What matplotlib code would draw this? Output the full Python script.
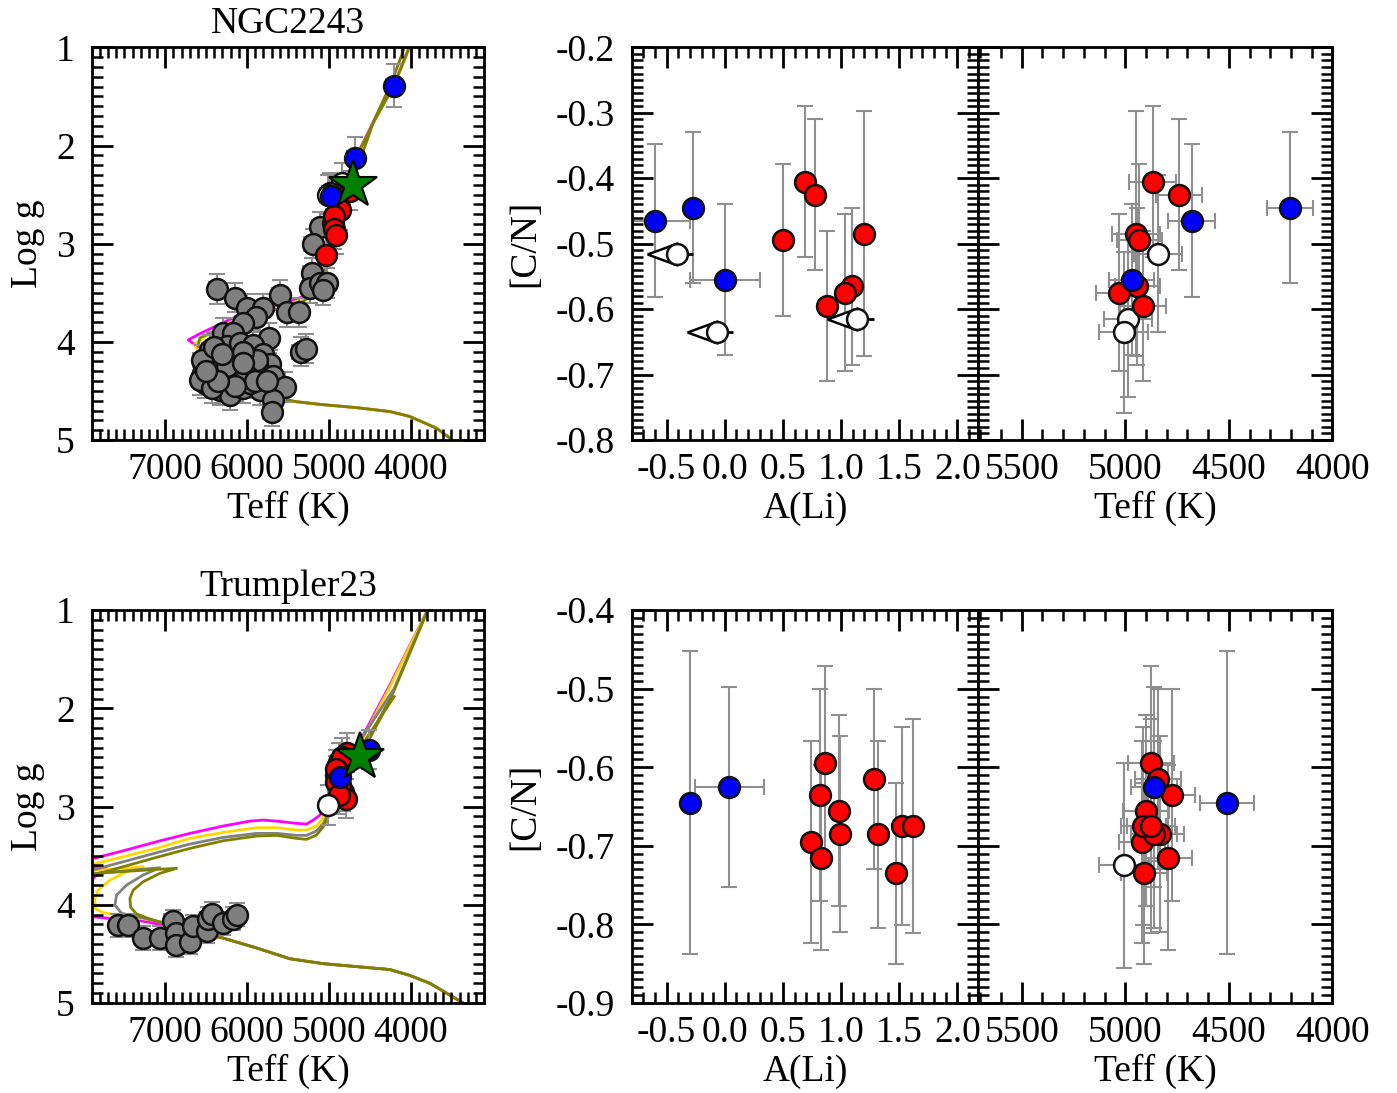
import matplotlib
matplotlib.use('Agg')
import matplotlib.pyplot as plt
from matplotlib.ticker import MultipleLocator, FuncFormatter

plt.rcParams['font.family'] = ['Liberation Serif', 'DejaVu Serif']
plt.rcParams['axes.unicode_minus'] = False

# ---------------- NGC2243 ----------------
ngc_gray_teff = [5109, 5199, 5211, 5231, 5109, 5019, 5068, 5598, 5516, 5362, 6364, 6148, 6005, 5810,
                 5895, 6046, 5728, 5345, 5280, 6291, 6168, 6454, 6250, 6087, 5924, 5802, 6474, 6331,
                 6128, 5965, 5720, 6535, 6372, 6209, 6046, 5863, 5679, 5537, 6515, 6331, 6209, 6046,
                 5843, 5679, 5700, 6576, 6413, 6128, 5965, 6556, 6433, 5883, 6046,
                 6400, 6250, 6000, 5900, 6150, 6350, 6500, 5750, 6050, 6300]
ngc_gray_logg = [2.83, 3.00, 3.30, 3.45, 3.40, 3.40, 3.47, 3.52, 3.70, 3.70, 3.46, 3.55, 3.66, 3.66,
                 3.75, 3.81, 3.96, 4.10, 4.07, 3.91, 3.91, 4.08, 4.04, 4.01, 4.03, 4.12, 4.20, 4.20,
                 4.18, 4.20, 4.23, 4.32, 4.35, 4.32, 4.29, 4.28, 4.35, 4.46, 4.42, 4.49, 4.54, 4.47,
                 4.49, 4.59, 4.71, 4.39, 4.29, 4.39, 4.42, 4.18, 4.47, 4.18, 4.10,
                 4.05, 4.25, 4.35, 4.40, 4.45, 4.40, 4.30, 4.40, 4.22, 4.12]

ngc_red_teff = [4868, 4741, 4948, 4932, 4942, 5029, 4913]
ngc_red_teff_err = [113, 111, 115, 110, 110, 112, 112]
ngc_red_logg = [2.66, 2.46, 2.79, 2.72, 2.85, 3.12, 2.91]
ngc_red_ali = [0.69, 0.78, 1.20, 0.50, 1.09, 1.03, 0.88]
ngc_red_cn = [-0.405, -0.425, -0.485, -0.495, -0.565, -0.575, -0.595]
ngc_red_cn_err = [0.115, 0.115, 0.187, 0.116, 0.12, 0.12, 0.115]

ngc_blue_teff = [4203, 4679, 4969]
ngc_blue_teff_err = [112, 114, 110]
ngc_blue_logg = [1.39, 2.13, 2.51]
ngc_blue_ali = [-0.27, -0.60, 0.00]
ngc_blue_ali_err = [0.0, 0.30, 0.30]
ngc_blue_cn = [-0.445, -0.465, -0.555]
ngc_blue_cn_err = [0.115, 0.117, 0.115]

ngc_white_teff = [4842, 4987, 5008]
ngc_white_teff_err = [115, 115, 120]
ngc_white_logg = [2.38, 2.48, 2.50]
ngc_white_ali = [-0.41, 1.14, -0.07]   # upper limits
ngc_white_cn = [-0.515, -0.615, -0.635]
ngc_white_cn_err = [0.12, 0.12, 0.123]

ngc_star_teff = [4702]
ngc_star_logg = [2.40]

# isochrones NGC2243
ngc_iso_olive_teff = [3520, 3682, 4009, 4253, 4661, 5068, 5394, 5516, 5883, 6209, 6454, 6596, 6576, 6372,
                      6128, 5679, 5313, 5211, 5068, 4987, 4885, 4783, 4681, 4457, 4204, 4029, 3990]
ngc_iso_olive_logg = [4.98, 4.88, 4.76, 4.71, 4.67, 4.64, 4.61, 4.59, 4.42, 4.29, 4.15, 4.03, 3.96, 3.88,
                      3.78, 3.68, 3.59, 3.52, 3.30, 3.03, 2.69, 2.39, 2.15, 1.77, 1.39, 1.03, 0.95]
ngc_iso_magenta_teff = [3520, 3682, 4009, 4253, 4661, 5068, 5394, 5516, 5883, 6209, 6454, 6650, 6719, 6560,
                        6128, 5639, 5350, 5231, 5068, 4987, 4885, 4783, 4681, 4457, 4204, 4029, 3990]
ngc_iso_magenta_logg = [4.98, 4.88, 4.76, 4.71, 4.67, 4.64, 4.61, 4.59, 4.42, 4.29, 4.12, 4.02, 3.98, 3.91,
                        3.74, 3.64, 3.55, 3.49, 3.28, 3.02, 2.68, 2.38, 2.14, 1.76, 1.38, 1.02, 0.94]
ngc_iso_gold_teff = [3520, 3682, 4009, 4253, 4661, 5068, 5394, 5516, 5883, 6209, 6454, 6620, 6640, 6520,
                     6128, 5660, 5330, 5220, 5068, 4987, 4885, 4783, 4681, 4457, 4204, 4029, 3990]
ngc_iso_gold_logg = [4.98, 4.88, 4.76, 4.71, 4.67, 4.64, 4.61, 4.59, 4.42, 4.29, 4.15, 4.07, 4.02, 3.95,
                     3.77, 3.66, 3.57, 3.51, 3.29, 3.03, 2.69, 2.39, 2.15, 1.77, 1.39, 1.03, 0.95]
ngc_iso_agb_teff = [4700, 4450, 4230, 4060]
ngc_iso_agb_logg = [2.35, 1.75, 1.35, 0.97]

# ---------------- Trumpler23 ----------------
tr_gray_teff = [7574, 7452, 7269, 7065, 6910, 6869, 6869, 6698, 6666, 6494, 6474, 6433, 6291, 6168, 6128]
tr_gray_logg = [4.21, 4.21, 4.34, 4.34, 4.17, 4.29, 4.41, 4.38, 4.22, 4.27, 4.14, 4.09, 4.19, 4.14, 4.10]

tr_red_teff = [4877, 4776, 4900, 4832, 4918, 4795, 4843, 4860, 4913, 4877, 4910]
tr_red_teff_err = [110, 112, 110, 115, 112, 115, 110, 112, 110, 115, 112]
tr_red_logg = [2.55, 2.45, 2.62, 2.85, 2.68, 2.92, 2.50, 2.78, 2.75, 2.88, 2.62]
tr_red_ali = [0.86, 0.82, 0.98, 0.99, 0.74, 0.83, 1.285, 1.32, 1.525, 1.62, 1.47]
tr_red_cn = [-0.595, -0.635, -0.655, -0.685, -0.695, -0.715, -0.615, -0.685, -0.675, -0.675, -0.735]
tr_red_cn_err = [0.124, 0.135, 0.121, 0.125, 0.129, 0.118, 0.115, 0.119, 0.126, 0.136, 0.115]

tr_blue_teff = [4510, 4861]
tr_blue_teff_err = [130, 110]
tr_blue_logg = [2.42, 2.70]
tr_blue_ali = [-0.30, 0.04]
tr_blue_ali_err = [0.0, 0.30]
tr_blue_cn = [-0.645, -0.625]
tr_blue_cn_err = [0.193, 0.127]

tr_white_teff = [5006]
tr_white_teff_err = [121]
tr_white_logg = [2.985]
tr_white_cn = [-0.725]
tr_white_cn_err = [0.13]

tr_star_teff = [4620]
tr_star_logg = [2.49]

tr_iso_olive_teff = [3357, 3520, 3764, 4009, 4253, 4661, 5068, 5476, 5883, 6291, 6698, 6983,
                     7187, 7350, 7424, 7432, 7391, 7269, 7065, 6861, 7106, 7432, 7717, 7921, 8050,
                     8050, 7921, 7513, 7106, 6698, 6291, 5883, 5639, 5394, 5272, 5150, 5068, 5007, 4966,
                     4824, 4579, 4253, 3805, 3780]
tr_iso_olive_logg = [5.00, 4.92, 4.80, 4.72, 4.66, 4.63, 4.60, 4.55, 4.44, 4.34, 4.26, 4.20,
                     4.145, 4.094, 4.026, 3.935, 3.850, 3.765, 3.680, 3.629, 3.640, 3.657, 3.673, 3.687, 3.70,
                     3.72, 3.707, 3.612, 3.517, 3.426, 3.348, 3.300, 3.293, 3.324, 3.334, 3.290, 3.205, 3.104, 3.036,
                     2.80, 2.43, 1.92, 1.03, 0.95]
tr_iso_gray_teff = [3357, 3520, 3764, 4009, 4253, 4661, 5068, 5476, 5883, 6291, 6698,
                    7024, 7310, 7534, 7615, 7595, 7472, 7269, 7065, 7310, 7595, 7921, 8050,
                    8050, 7921, 7513, 7106, 6698, 6291, 5883, 5639, 5394, 5272, 5150, 5068, 5007, 4966,
                    4824, 4579, 4253, 3805, 3780]
tr_iso_gray_logg = [5.00, 4.92, 4.80, 4.72, 4.66, 4.63, 4.60, 4.55, 4.44, 4.34, 4.26,
                    4.183, 4.128, 4.087, 4.003, 3.901, 3.799, 3.697, 3.623, 3.640, 3.663, 3.687, 3.69,
                    3.67, 3.653, 3.562, 3.470, 3.382, 3.314, 3.273, 3.273, 3.293, 3.293, 3.249, 3.171, 3.070, 3.00,
                    2.78, 2.41, 1.90, 1.02, 0.95]
tr_iso_gold_teff = [3357, 3520, 3764, 4009, 4253, 4661, 5068, 5476, 5883, 6291, 6698,
                    7106, 7513, 7758, 7860, 7860, 7819, 7676, 7472, 7269, 7513, 7921, 8050,
                    8050, 7921, 7513, 7106, 6698, 6291, 5883, 5639, 5394, 5272, 5150, 5089, 5027, 4990,
                    4824, 4579, 4253, 3805, 3780]
tr_iso_gold_logg = [5.00, 4.92, 4.80, 4.72, 4.66, 4.63, 4.60, 4.55, 4.44, 4.34, 4.26,
                    4.162, 4.114, 4.080, 4.036, 3.935, 3.850, 3.748, 3.663, 3.612, 3.629, 3.653, 3.66,
                    3.61, 3.595, 3.511, 3.426, 3.324, 3.263, 3.215, 3.215, 3.239, 3.239, 3.198, 3.137, 3.053, 2.98,
                    2.70, 2.30, 1.78, 1.02, 0.94]
tr_iso_magenta_teff = [3357, 3520, 3764, 4009, 4253, 4661, 5068, 5476, 5883, 6291, 6698,
                       7024, 7310, 7676, 7921, 8050,
                       8050, 7921, 7839, 7717, 7921, 8050,
                       8050, 7921, 7513, 7106, 6698, 6291, 5965, 5802, 5639, 5394, 5272, 5190, 5109, 5048, 5007,
                       4824, 4579, 4253, 3805, 3780]
tr_iso_magenta_logg = [5.00, 4.92, 4.80, 4.72, 4.66, 4.63, 4.60, 4.55, 4.44, 4.34, 4.26,
                       4.206, 4.162, 4.138, 4.121, 4.11,
                       3.78, 3.765, 3.697, 3.629, 3.612, 3.60,
                       3.55, 3.538, 3.450, 3.358, 3.273, 3.198, 3.148, 3.137, 3.148, 3.171, 3.178, 3.137, 3.087, 3.019, 2.95,
                       2.66, 2.27, 1.76, 1.02, 0.94]
tr_iso_gray_agb_teff = [4580, 4220]
tr_iso_gray_agb_logg = [2.28, 1.82]
tr_iso_olive_agb_teff = [4560, 4200]
tr_iso_olive_agb_logg = [2.33, 1.88]

# ---------------- styling ----------------
FS = 27
ECOL = '#8f8f8f'
GRAY = '#7f7f7f'
OLIVE = '#808000'
MS = 15

dec_fmt = FuncFormatter(lambda v, p: '%.1f' % v)


def style(ax, xmaj, xmin, ymaj, ymin, ylabels=True):
    ax.xaxis.set_major_locator(MultipleLocator(xmaj))
    ax.xaxis.set_minor_locator(MultipleLocator(xmin))
    ax.yaxis.set_major_locator(MultipleLocator(ymaj))
    ax.yaxis.set_minor_locator(MultipleLocator(ymin))
    ax.tick_params(which='both', direction='in', top=True, right=True, labelsize=FS)
    ax.tick_params(which='major', length=15, width=2)
    ax.tick_params(which='minor', length=8, width=1.8)
    ax.tick_params(axis='x', pad=9)
    ax.tick_params(axis='y', pad=12)
    if not ylabels:
        ax.tick_params(labelleft=False)
    for s in ax.spines.values():
        s.set_linewidth(2)


def pts(ax, x, y, color, xerr=None, yerr=None, ms=MS):
    if xerr is not None or yerr is not None:
        ax.errorbar(x, y, xerr=xerr, yerr=yerr, fmt='none', ecolor=ECOL, elinewidth=1.5,
                    capsize=6, capthick=1.5, zorder=2)
    ax.plot(x, y, 'o', ms=ms, mfc=color, mec='#111111', mew=1.8, ls='none', zorder=4)


fig = plt.figure(figsize=(13.97, 10.93), dpi=100)

rows = [0.5974, 0.0824]
H = 0.3593

for r, y0 in enumerate(rows):
    axh = fig.add_axes([0.0656, y0, 0.2810, H])
    axl = fig.add_axes([0.4522, y0, 0.2481, H])
    axt = fig.add_axes([0.7003, y0, 0.2534, H])

    # HR diagram
    style(axh, 1000, 100, 1, 0.1)
    axh.set_xlim(7900, 3100)
    axh.set_ylim(5, 1)
    axh.set_xlabel('Teff (K)', fontsize=FS, labelpad=3)
    axh.set_ylabel('Log g', fontsize=FS, labelpad=8)

    style(axl, 0.5, 0.1, 0.1, 0.01)
    axl.xaxis.set_major_formatter(dec_fmt)
    axl.yaxis.set_major_formatter(dec_fmt)
    axl.set_xlim(-0.8, 2.18)
    axl.set_xlabel('A(Li)', fontsize=FS, labelpad=3)
    axl.set_ylabel('[C/N]', fontsize=FS, labelpad=10)

    style(axt, 500, 100, 0.1, 0.01, ylabels=False)
    axt.set_xlim(5710, 4000)
    axt.set_xlabel('Teff (K)', fontsize=FS, labelpad=3)

    if r == 0:
        axh.set_title('NGC2243', fontsize=FS, pad=10)
        axh.plot(ngc_iso_magenta_teff, ngc_iso_magenta_logg, color='magenta', lw=2, zorder=1)
        axh.plot(ngc_iso_gold_teff, ngc_iso_gold_logg, color='gold', lw=2, zorder=1)
        axh.plot(ngc_iso_olive_teff, ngc_iso_olive_logg, color=OLIVE, lw=2, zorder=1)
        axh.plot(ngc_iso_agb_teff, ngc_iso_agb_logg, color=OLIVE, lw=2, zorder=1)
        pts(axh, ngc_gray_teff, ngc_gray_logg, GRAY, xerr=100, yerr=0.15)
        pts(axh, ngc_white_teff, ngc_white_logg, 'white', xerr=100, yerr=0.2)
        pts(axh, ngc_red_teff, ngc_red_logg, 'red', xerr=100, yerr=0.2)
        pts(axh, ngc_blue_teff, ngc_blue_logg, 'blue', xerr=95, yerr=0.22)
        axh.plot(ngc_star_teff, ngc_star_logg, '*', ms=36, mfc='green', mec='k', mew=1.5, zorder=5)

        axl.set_ylim(-0.8, -0.2)
        axt.set_ylim(-0.8, -0.2)
        # A(Li) panel
        pts(axl, ngc_blue_ali, ngc_blue_cn, 'blue', xerr=ngc_blue_ali_err, yerr=ngc_blue_cn_err)
        pts(axl, ngc_red_ali, ngc_red_cn, 'red', yerr=ngc_red_cn_err)
        axl.errorbar(ngc_white_ali, ngc_white_cn, xerr=[[0] * 3, [0.14] * 3], fmt='none',
                     ecolor='k', elinewidth=2, capsize=0, zorder=3)
        lim_marker = [(-30, 0), (0, 11), (0, -11), (-30, 0)]
        axl.plot(ngc_white_ali, ngc_white_cn, marker=lim_marker, ms=43, mfc='white', mec='k',
                 mew=1.8, ls='none', zorder=3)
        axl.plot(ngc_white_ali, ngc_white_cn, 'o', ms=MS, mfc='white', mec='#111111', mew=1.8,
                 ls='none', zorder=4)
        # Teff panel
        pts(axt, ngc_white_teff, ngc_white_cn, 'white', xerr=ngc_white_teff_err, yerr=ngc_white_cn_err)
        pts(axt, ngc_red_teff, ngc_red_cn, 'red', xerr=ngc_red_teff_err, yerr=ngc_red_cn_err)
        pts(axt, ngc_blue_teff, ngc_blue_cn, 'blue', xerr=ngc_blue_teff_err, yerr=ngc_blue_cn_err)
    else:
        axh.set_title('Trumpler23', fontsize=FS, pad=10)
        axh.plot(tr_iso_magenta_teff, tr_iso_magenta_logg, color='magenta', lw=2, zorder=1)
        axh.plot(tr_iso_gold_teff, tr_iso_gold_logg, color='gold', lw=2, zorder=1)
        axh.plot(tr_iso_gray_teff, tr_iso_gray_logg, color='gray', lw=2, zorder=1)
        axh.plot(tr_iso_olive_teff, tr_iso_olive_logg, color=OLIVE, lw=2, zorder=1)
        axh.plot(tr_iso_gray_agb_teff, tr_iso_gray_agb_logg, color='gray', lw=2, zorder=1)
        axh.plot(tr_iso_olive_agb_teff, tr_iso_olive_agb_logg, color=OLIVE, lw=2, zorder=1)
        pts(axh, tr_gray_teff, tr_gray_logg, GRAY, xerr=100, yerr=0.12)
        pts(axh, tr_red_teff, tr_red_logg, 'red', xerr=100, yerr=0.2)
        pts(axh, tr_white_teff, tr_white_logg, 'white', xerr=100, yerr=0.2)
        pts(axh, tr_blue_teff, tr_blue_logg, 'blue', xerr=100, yerr=0.2)
        axh.plot(tr_star_teff, tr_star_logg, '*', ms=36, mfc='green', mec='k', mew=1.5, zorder=5)

        axl.set_ylim(-0.9, -0.4)
        axt.set_ylim(-0.9, -0.4)
        pts(axl, tr_blue_ali, tr_blue_cn, 'blue', xerr=tr_blue_ali_err, yerr=tr_blue_cn_err)
        pts(axl, tr_red_ali, tr_red_cn, 'red', yerr=tr_red_cn_err)

        pts(axt, tr_white_teff, tr_white_cn, 'white', xerr=tr_white_teff_err, yerr=tr_white_cn_err)
        pts(axt, tr_red_teff, tr_red_cn, 'red', xerr=tr_red_teff_err, yerr=tr_red_cn_err)
        pts(axt, tr_blue_teff, tr_blue_cn, 'blue', xerr=tr_blue_teff_err, yerr=tr_blue_cn_err)

fig.savefig('out.png', dpi=100)
